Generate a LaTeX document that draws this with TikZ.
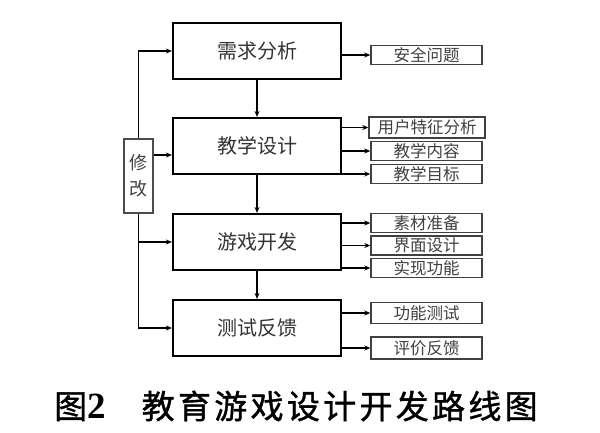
\documentclass[tikz,border=0pt]{standalone}
\usepackage{fontspec}
\usepackage{xcolor}
\usepackage{tikz}
\usetikzlibrary{positioning,calc,arrows.meta}
\newfontfamily\cjk{Noto Sans CJK SC}
\newfontfamily\capcjk[LetterSpace=10,FakeBold=1.2]{Noto Sans CJK SC}
\newfontfamily\capnum{Liberation Serif}

\begin{document}
\begin{tikzpicture}[x=1pt,y=-1pt,
        mainbox/.style={draw, line width=2.2pt, minimum width=168pt, minimum height=56pt, inner sep=0pt, text=black!80, font=\cjk\fontsize{20}{20}\selectfont},
        subbox/.style={draw=black!75, line width=1.4pt, minimum width=111pt, minimum height=19pt, inner sep=1pt, text=black!75, font=\cjk\fontsize{16.5}{17}\selectfont},
        arr/.style={line width=1.1pt, -{Stealth[length=6pt,width=5pt]}}]
        \useasboundingbox (0,0) rectangle (600,432);

        % Main stages
        \node[mainbox] (xq) at (257,51) {需求分析};
        \node[mainbox] (jx) at (257,146) {教学设计};
        \node[mainbox] (yx) at (257,242) {游戏开发};
        \node[mainbox] (cs) at (257,328) {测试反馈};

        % Revision box
        \node[draw=black!70, line width=1.4pt, minimum width=29pt, minimum height=74pt, inner sep=0pt, text=black!75, font=\cjk\fontsize{18}{26}\selectfont, align=center] (xg) at (138.5,176) {修\\改};

        % Sub tasks
        \node[subbox] (aq) at (426.5,55) {安全问题};
        \node[subbox, minimum width=116pt, minimum height=21pt] (yh) at (427,127.5) {用户特征分析};
        \node[subbox] (nr) at (426.5,151) {教学内容};
        \node[subbox] (mb) at (426.5,174) {教学目标};
        \node[subbox] (sc) at (426.5,223) {素材准备};
        \node[subbox] (jm) at (426.5,245.5) {界面设计};
        \node[subbox] (gn) at (426.5,268) {实现功能};
        \node[subbox, minimum height=21pt] (cg) at (426.5,313) {功能测试};
        \node[subbox, minimum height=22pt] (pj) at (426.5,348) {评价反馈};

        % Flow
        \draw[arr] (xq) -- (jx);
        \draw[arr] (jx) -- (yx);
        \draw[arr] (yx) -- (cs);

        % Feedback loop
        \coordinate (p2) at ([yshift=-9pt]jx.west);
        \draw[arr] (xg.north) |- (xq.west);
        \draw[arr] (xg.east |- p2) -- (p2);
        \draw[arr] (xg.south |- yx.west) -- (yx.west);
        \draw[arr] (xg.south) |- (cs.west);

        % Outputs
        \foreach \m/\s in {xq/aq, jx/yh, jx/nr, jx/mb, yx/sc, yx/jm, yx/gn, cs/cg, cs/pj} {
            \draw[arr] (\m.east |- \s.west) -- (\s.west);
        }

        % Caption
        \node[anchor=west, inner sep=0pt, font=\fontsize{33}{34}\selectfont] (cap) at (54,406) {{\capcjk 图}{\capnum\bfseries\fontsize{37}{37}\selectfont 2}\hspace{36pt}{\capcjk 教育游戏设计开发路线图}};
\end{tikzpicture}
\end{document}
